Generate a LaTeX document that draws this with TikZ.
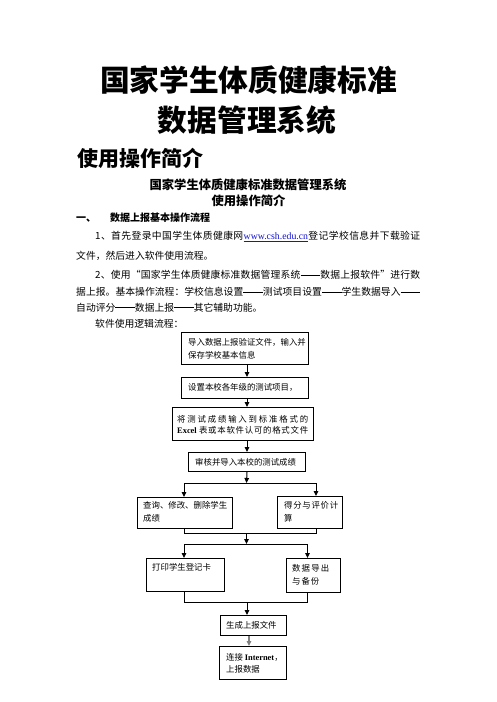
\documentclass[tikz,border=0pt]{standalone}
\usepackage{fontspec}
\setmainfont{Liberation Serif}
\newfontfamily\cjk{Noto Sans CJK SC}
\usetikzlibrary{arrows.meta}
\def\sprx#1{\ifx#1\relax\else#1\hfil\expandafter\sprx\fi}
\newcommand\spr[2]{\makebox[#1][s]{\sprx#2\relax\unskip}}
\newcommand\dd{\rule[0.32em]{2em}{0.055em}}
\definecolor{urlblue}{RGB}{20,20,210}
\newcommand\myurl{{\rmfamily\color{urlblue}\underline{www.csh.edu.cn}}}
\newcommand\mybox[5]{\node[box,anchor=north west,minimum width={#4pt-#2pt},minimum height={#5pt-#3pt}] (#1) at (#2,#3) {};}
\tikzset{
  t/.style={inner sep=0pt, anchor=base west},
  tc/.style={inner sep=0pt, anchor=base},
  ftitle/.style={font=\cjk\bfseries\fontsize{29.7}{32}\selectfont},
  fsub/.style={font=\cjk\bfseries\fontsize{21}{24}\selectfont},
  fhead/.style={font=\cjk\bfseries\fontsize{12.3}{14}\selectfont},
  fsec/.style={font=\cjk\bfseries\fontsize{10}{12}\selectfont},
  fbody/.style={font=\cjk\fontsize{9.8}{12}\selectfont},
  fbox/.style={font=\cjk\fontsize{8.4}{10}\selectfont},
  box/.style={draw, line width=1pt, inner sep=0pt},
  ln/.style={line width=1pt},
  arr/.style={line width=1pt, -{Triangle[length=5pt,width=4.5pt]}},
}
\begin{document}
\begin{tikzpicture}[x=1pt,y=-1pt]
\fill[white] (0,0) rectangle (496,702);
\useasboundingbox (0,0) rectangle (496,702);

% titles
\node[tc,ftitle] (ti1) at (248.5,91.8) {国家学生体质健康标准};
\node[tc,ftitle] (ti2) at (247,131.4) {数据管理系统};
\node[t,fsub] (ti3) at (77,166) {使用操作简介};
\node[tc,fhead] (h1) at (248,189.7) {国家学生体质健康标准数据管理系统};
\node[tc,fhead] (h2) at (248.5,205.1) {使用操作简介};
\node[t,fsec] (s1) at (76,221.3) {一、};
\node[t,fsec] (s2) at (110,221.3) {数据上报基本操作流程};

% body
\node[t,fbody] (b1) at (95,239.4) {\makebox[325pt][s]{\sprx 1、首先登录中国学生体质健康网\relax\myurl\hfil\sprx 登记学校信息并下载验证\relax\unskip}};
\node[t,fbody] (b2) at (76,259.7) {文件，然后进入软件使用流程。};
\node[t,fbody] (b3) at (95,278.7) {\spr{325pt}{2、使用“国家学生体质健康标准数据管理系统\dd 数据上报软件”进行数}};
\node[t,fbody] (b4) at (76,295.4) {\spr{344pt}{据上报。基本操作流程：学校信息设置\dd 测试项目设置\dd 学生数据导入\dd}};
\node[t,fbody] (b5) at (76,311) {自动评分\dd 数据上报\dd 其它辅助功能。};
\node[t,fbody] (b6) at (95,327.7) {软件使用逻辑流程：};

% boxes
\mybox{B1}{181}{332}{308}{364}
\mybox{B2}{181}{377}{308}{398}
\mybox{B3}{172}{407}{313}{440}
\mybox{B4}{188}{452}{305}{471}
\mybox{B5}{137}{497}{232}{528}
\mybox{B6}{277}{496}{342}{528}
\mybox{B7}{146}{558}{224}{591}
\mybox{B8}{286}{558}{340}{592}
\mybox{B9}{220}{615}{286}{635}
\mybox{B10}{219}{646}{286}{679}

% box texts
\node[t,fbox] (x1a) at (188,345.2) {导入数据上报验证文件，输入并};
\node[t,fbox] (x1b) at (188,358.2) {保存学校基本信息};
\node[t,fbox] (x2) at (188,390.2) {设置本校各年级的测试项目，};
\node[t,fbox] (x3a) at (177,422.2) {\spr{131pt}{将测试成绩输入到标准格式的}};
\node[t,fbox] (x3b) at (177,433.2) {\makebox[131pt][s]{{\rmfamily\bfseries Excel}\hspace{1.5pt}\hfil\sprx 表或本软件认可的格式文件\relax\unskip}};
\node[t,fbox] (x4) at (195,465.2) {审核并导入本校的测试成绩};
\node[t,fbox] (x5a) at (143,508.2) {查询、修改、删除学生};
\node[t,fbox] (x5b) at (143,521.2) {成绩};
\node[t,fbox] (x6a) at (284,508.7) {\spr{54pt}{得分与评价计}};
\node[t,fbox] (x6b) at (284,521.2) {算};
\node[t,fbox] (x7) at (152,570.2) {打印学生登记卡};
\node[t,fbox] (x8a) at (292,571.7) {\spr{37pt}{数据导出}};
\node[t,fbox] (x8b) at (292,584.2) {\spr{27pt}{与备份}};
\node[t,fbox] (x9) at (226,628.2) {生成上报文件};
\node[t,fbox] (x10a) at (226,660.2) {连接 {\rmfamily\bfseries Internet}，};
\node[t,fbox] (x10b) at (226,672.2) {上报数据};

% connectors
\draw[arr] (B1.south -| B4.north) -- (B2.north -| B4.north);
\draw[arr] (B2.south -| B4.north) -- (B3.north -| B4.north);
\draw[arr] (B3.south -| B4.north) -- (B4.north);

\coordinate (j1) at (246.5,483);
\coordinate (j1l) at (184,483);
\coordinate (j1r) at (316,483);
\draw[arr] (B4.south) -- (j1);
\draw[ln] (j1l) -- (j1r);
\draw[arr] (j1l) -- (j1l |- B5.north);
\draw[arr] (j1r) -- (j1r |- B6.north);

\coordinate (m2l) at (184,533);
\coordinate (m2r) at (316,533);
\coordinate (m2c) at (246.5,533);
\draw[ln] (m2l |- B5.south) -- (m2l) -- (m2r) -- (m2r |- B6.south);
\coordinate (j2) at (246.5,544);
\coordinate (j2l) at (184,544);
\coordinate (j2r) at (307.5,544);
\draw[arr] (m2c) -- (j2);
\draw[ln] (j2l) -- (j2r);
\draw[arr] (j2l) -- (j2l |- B7.north);
\draw[arr] (j2r) -- (j2r |- B8.north);

\coordinate (m3l) at (184,602);
\coordinate (m3r) at (307.5,602);
\coordinate (m3c) at (247,602);
\draw[ln] (m3l |- B7.south) -- (m3l) -- (m3r) -- (m3r |- B8.south);
\draw[arr] (m3c) -- (m3c |- B9.north);

\coordinate (g) at (249,640);
\draw[arr, draw=gray, fill=gray, line width=1.6pt] (B9.south -| g) -- (B10.north -| g);
\end{tikzpicture}
\end{document}
